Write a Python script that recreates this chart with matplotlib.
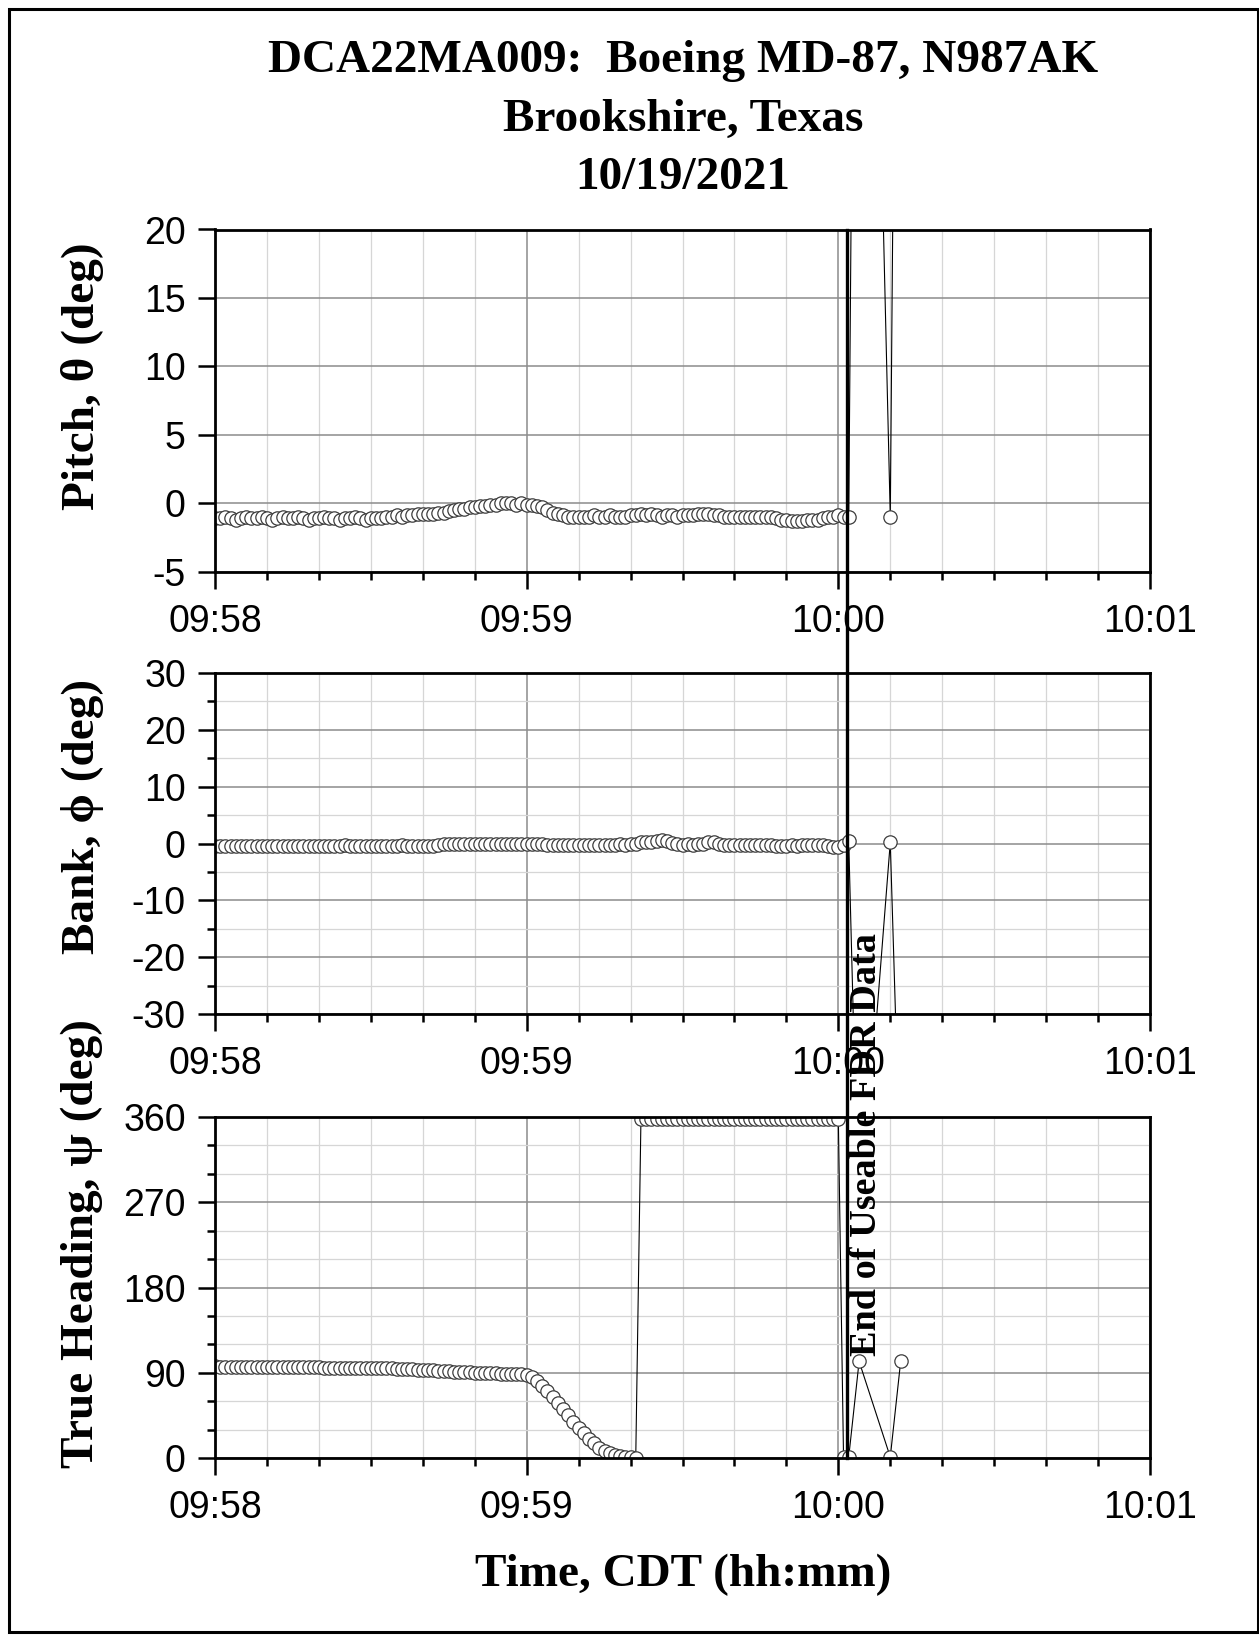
import matplotlib
matplotlib.use("Agg")
import matplotlib.pyplot as plt
import matplotlib.transforms as mtransforms
from matplotlib.ticker import MultipleLocator, FixedLocator, NullLocator
from matplotlib.lines import Line2D
from matplotlib.patches import Rectangle

plt.rcParams["axes.unicode_minus"] = False

# ---------------- data ----------------
# seconds after 09:58:00 (1 Hz samples, then the last garbled samples)
time_s = list(range(0, 123)) + [124, 130, 132]

pitch = [
    -1.1, -1.1, -1.0, -1.1, -1.2, -1.1, -1.0, -1.1, -1.1, -1.0,
    -1.1, -1.2, -1.1, -1.0, -1.1, -1.1, -1.0, -1.1, -1.2, -1.1,
    -1.1, -1.0, -1.1, -1.1, -1.2, -1.1, -1.1, -1.0, -1.1, -1.2,
    -1.1, -1.1, -1.1, -1.0, -1.0, -0.9, -1.0, -0.9, -0.9, -0.8,
    -0.8, -0.8, -0.8, -0.7, -0.7, -0.6, -0.5, -0.4, -0.4, -0.3,
    -0.3, -0.2, -0.2, -0.1, -0.1, 0.0, 0.0, 0.0, -0.1, 0.0,
    -0.1, -0.1, -0.2, -0.3, -0.5, -0.7, -0.8, -0.9, -1.0, -1.0,
    -1.0, -1.0, -1.0, -0.9, -1.0, -1.0, -0.9, -1.0, -1.0, -1.0,
    -0.9, -0.9, -0.8, -0.9, -0.8, -0.9, -1.0, -0.9, -0.9, -1.0,
    -0.9, -0.9, -0.9, -0.8, -0.8, -0.8, -0.9, -0.9, -1.0, -1.0,
    -1.0, -1.0, -1.0, -1.0, -1.0, -1.0, -1.0, -1.0, -1.1, -1.2,
    -1.2, -1.3, -1.3, -1.3, -1.2, -1.2, -1.2, -1.1, -1.0, -1.0,
    -0.9, -1.0, -1.0,
    95.0, -1.0, 90.0,
]

bank = [
    -0.4, -0.5, -0.4, -0.4, -0.5, -0.4, -0.4, -0.5, -0.4, -0.4,
    -0.4, -0.5, -0.4, -0.4, -0.4, -0.5, -0.4, -0.4, -0.5, -0.4,
    -0.4, -0.4, -0.5, -0.4, -0.4, -0.3, -0.4, -0.4, -0.5, -0.4,
    -0.4, -0.4, -0.5, -0.4, -0.4, -0.4, -0.3, -0.4, -0.4, -0.4,
    -0.4, -0.5, -0.4, -0.3, -0.1, 0.0, -0.1, 0.0, -0.1, -0.1,
    0.0, -0.1, -0.1, 0.0, -0.1, -0.1, 0.0, -0.1, -0.1, -0.1,
    -0.1, 0.0, -0.1, -0.1, -0.2, -0.2, -0.3, -0.2, -0.2, -0.3,
    -0.2, -0.3, -0.3, -0.2, -0.2, -0.3, -0.2, -0.2, -0.1, -0.2,
    -0.1, 0.0, 0.2, 0.3, 0.2, 0.5, 0.6, 0.4, 0.1, -0.1,
    -0.2, -0.1, -0.2, -0.1, 0.0, 0.2, 0.3, 0.0, -0.2, -0.3,
    -0.2, -0.3, -0.3, -0.2, -0.3, -0.3, -0.2, -0.3, -0.4, -0.5,
    -0.4, -0.3, -0.4, -0.3, -0.2, -0.3, -0.2, -0.3, -0.5, -0.7,
    -0.6, -0.2, 0.4,
    -70.0, 0.2, -60.0,
]

heading = [
    96.6, 96.5, 96.5, 96.4, 96.4, 96.3, 96.3, 96.2, 96.2, 96.1,
    96.1, 96.0, 96.0, 95.9, 95.9, 95.8, 95.8, 95.7, 95.7, 95.6,
    95.6, 95.5, 95.5, 95.4, 95.4, 95.3, 95.3, 95.2, 95.1, 95.0,
    95.0, 94.9, 94.8, 94.7, 94.5, 94.3, 94.1, 93.9, 93.6, 93.3,
    93.0, 92.7, 92.4, 92.1, 91.8, 91.5, 91.2, 90.9, 90.6, 90.3,
    90.1, 89.9, 89.7, 89.5, 89.3, 89.2, 89.1, 89.0, 88.8, 88.5,
    87.5, 85.0, 81.0, 76.0, 70.5, 64.5, 58.0, 51.5, 45.0, 38.5,
    32.0, 26.0, 20.5, 15.5, 11.0, 7.5, 5.0, 3.2, 2.0, 1.2,
    0.8, 0.5,
    358.2, 358.0, 357.8, 358.1, 358.3, 357.9, 358.0, 358.2,
    358.1, 357.8, 358.0, 358.2, 358.4, 358.1, 357.9, 358.0, 357.7, 357.9,
    358.2, 358.0, 357.8, 358.1, 358.3, 358.0, 357.9, 358.2, 358.0, 357.8,
    358.1, 358.3, 358.0, 357.9, 358.1, 358.2, 357.9, 358.0, 358.1, 358.3,
    357.8,
    1.2, 1.0,
    102.0, 1.0, 102.0,
]

x_tick_pos = [0, 60, 120, 180]
x_tick_labels = ["09:58", "09:59", "10:00", "10:01"]
fdr_end_s = 121.7

title_lines = ["DCA22MA009:  Boeing MD-87, N987AK", "Brookshire, Texas", "10/19/2021"]
ylabels = ["Pitch, \u03b8 (deg)", "Bank, \u03d5 (deg)", "True Heading, \u03c8 (deg)"]
xlabel = "Time, CDT (hh:mm)"
fdr_text = "End of Useable FDR Data"

pitch_ticks = [-5, 0, 5, 10, 15, 20]
bank_ticks = [-30, -20, -10, 0, 10, 20, 30]
heading_ticks = [0, 90, 180, 270, 360]

# ---------------- figure ----------------
W, H = 1259, 1636
fig = plt.figure(figsize=(W / 100, H / 100), dpi=100)
fig.patch.set_facecolor("white")

serif = ["Liberation Serif", "DejaVu Serif"]
sans = ["Liberation Sans", "DejaVu Sans"]


def frac_rect(left, top, right, bottom):
    return [left / W, 1 - bottom / H, (right - left) / W, (bottom - top) / H]


ax1 = fig.add_axes(frac_rect(215, 229.5, 1150, 571.6))
ax2 = fig.add_axes(frac_rect(215, 673, 1150, 1014))
ax3 = fig.add_axes(frac_rect(215, 1117, 1150, 1458))

series = [pitch, bank, heading]
ylims = [(-5, 20), (-30, 30), (0, 360)]
yticks = [pitch_ticks, bank_ticks, heading_ticks]
yminor = [None, 5, 30]

for ax, vals, yl, yt, ym in zip([ax1, ax2, ax3], series, ylims, yticks, yminor):
    ax.plot(time_s, vals, color="black", lw=0.8, marker="o", ms=9.6,
            mfc="white", mec="#3c3c3c", mew=0.9, zorder=3)
    ax.set_xlim(0, 180)
    ax.set_ylim(*yl)
    ax.xaxis.set_major_locator(FixedLocator(x_tick_pos))
    ax.set_xticklabels(x_tick_labels)
    ax.xaxis.set_minor_locator(MultipleLocator(10))
    ax.yaxis.set_major_locator(FixedLocator(yt))
    if ym is None:
        ax.yaxis.set_minor_locator(NullLocator())
    else:
        ax.yaxis.set_minor_locator(MultipleLocator(ym))
    ax.set_axisbelow(True)
    ax.grid(which="major", color="#8c8c8c", lw=1.1)
    ax.grid(which="minor", color="#d6d6d6", lw=0.9)
    for sp in ax.spines.values():
        sp.set_linewidth(2.0)
        sp.set_zorder(5)
    ax.tick_params(which="major", direction="out", length=12, width=1.8,
                   labelsize=27, pad=9)
    ax.tick_params(axis="x", which="major", pad=11)
    ax.tick_params(which="minor", direction="out", length=5.5, width=1.8)
    for lab in ax.get_xticklabels() + ax.get_yticklabels():
        lab.set_family(sans)

# title
for txt, yp in zip(title_lines, [60.5, 120, 178.4]):
    fig.text(683 / W, 1 - yp / H, txt, ha="center", va="center",
             fontsize=34, fontweight="bold", family=serif)

# y labels
for txt, yp in zip(ylabels, [376, 816, 1243]):
    fig.text(82 / W, 1 - yp / H, txt, rotation=90, ha="center", va="center",
             fontsize=34, fontweight="bold", family=serif)

# x label
fig.text(683 / W, 1 - 1575 / H, xlabel, ha="center", va="center",
         fontsize=34, fontweight="bold", family=serif)

# End of useable FDR data line spanning all panels
blend = mtransforms.blended_transform_factory(ax3.transData, fig.transFigure)
fig.add_artist(Line2D([fdr_end_s, fdr_end_s], [1 - 229.5 / H, 1 - 1458 / H],
                      transform=blend, color="black", lw=2.4, zorder=10))
txt_trans = mtransforms.offset_copy(blend, fig=fig, x=2, y=0, units="dots")
fig.text(fdr_end_s, 1 - 1145 / H, fdr_text, transform=txt_trans, rotation=90,
         ha="left", va="center", fontsize=27.5, fontweight="bold", family=serif,
         zorder=11)

# figure border
fig.add_artist(Rectangle((8.5 / W, 1 - 1632 / H), (1257.5 - 8.5) / W,
                         (1632 - 8.5) / H, transform=fig.transFigure,
                         fill=False, edgecolor="black", lw=2.2))

fig.savefig("out.png", dpi=100, facecolor="white")
